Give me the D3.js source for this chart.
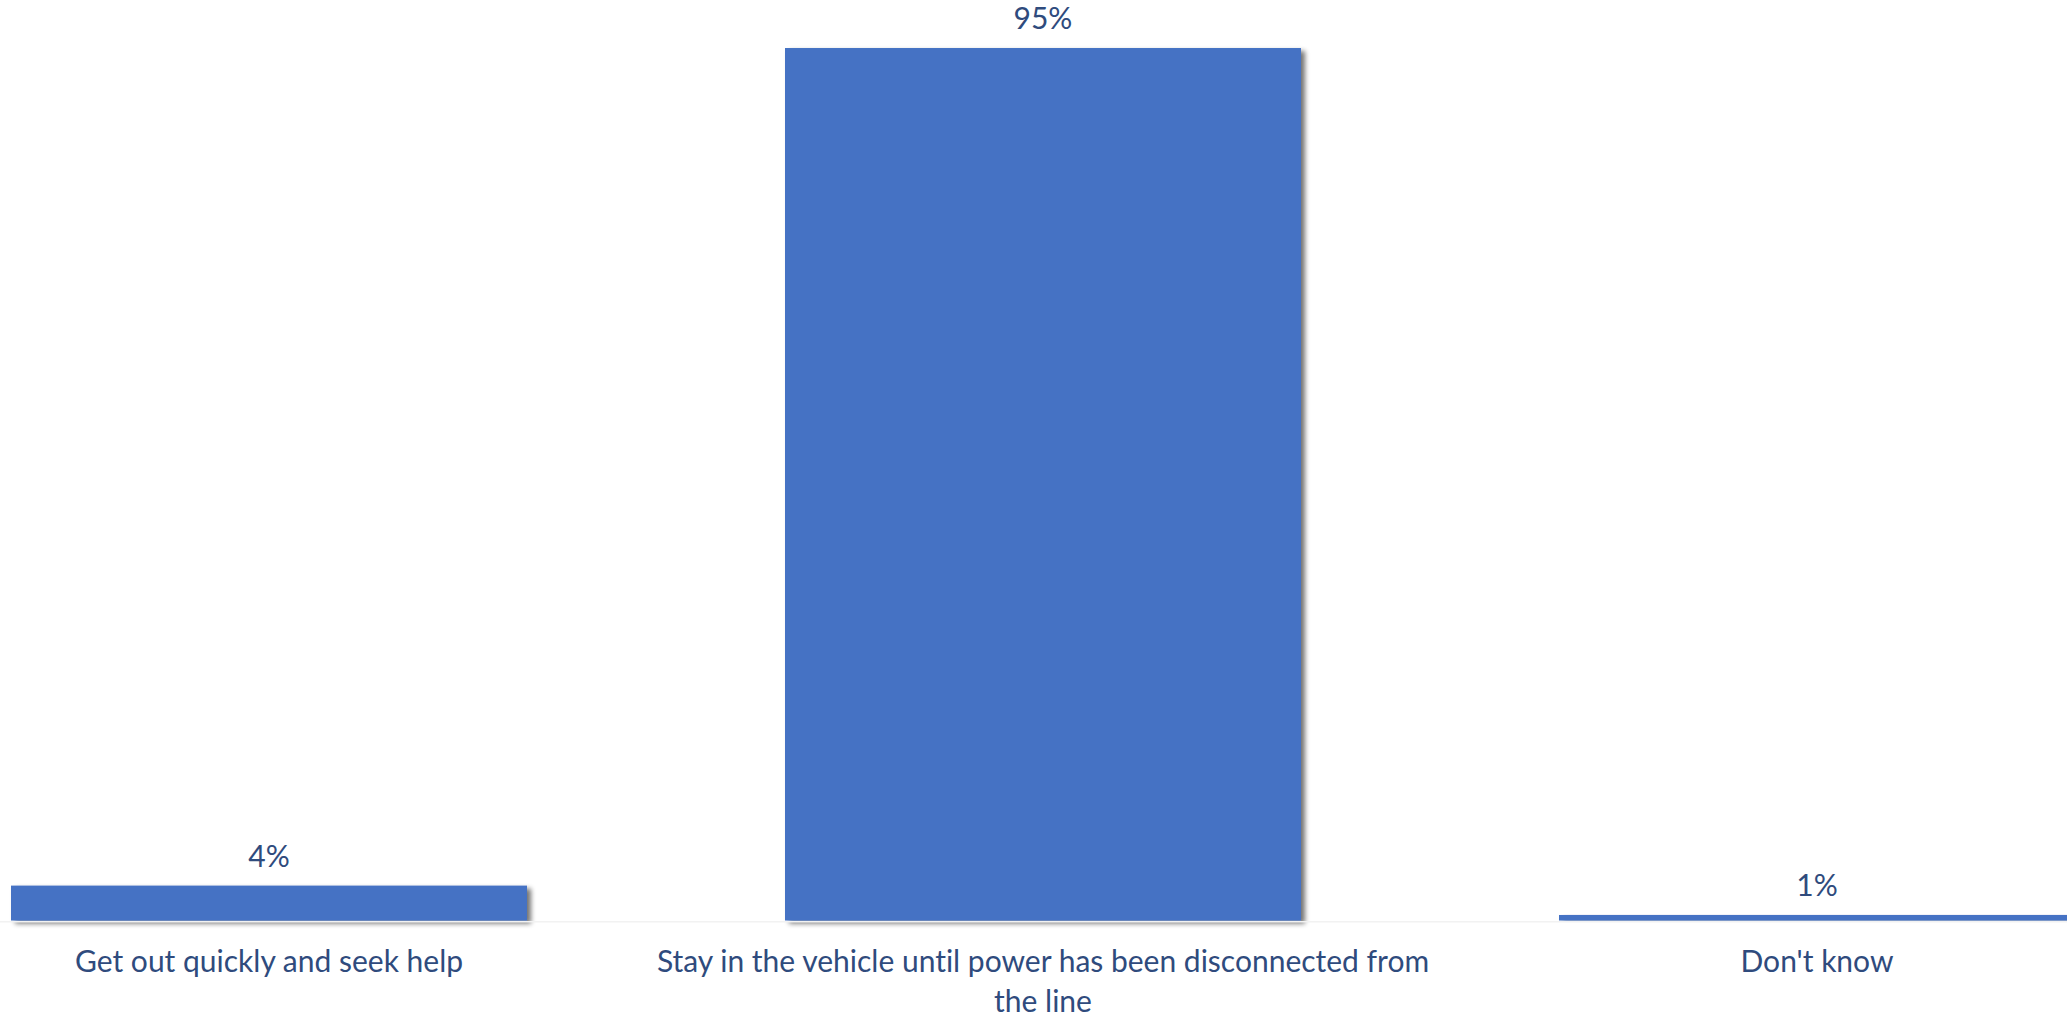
<!DOCTYPE html>
<html>
<head>
<meta charset="utf-8">
<script src="https://cdn.jsdelivr.net/npm/d3@7"></script>
<style>
  html, body { margin: 0; padding: 0; background: #ffffff; overflow: hidden; }
  svg { display: block; }
  text { font-variant-ligatures: none; font-feature-settings: "liga" 0, "clig" 0; }
</style>
</head>
<body>
<script>
// ---- data ----
const categories = [
  "Get out quickly and seek help",
  "Stay in the vehicle until power has been disconnected from the line",
  "Don't know"
];
const categoryLines = [
  ["Get out quickly and seek help"],
  ["Stay in the vehicle until power has been disconnected from", "the line"],
  ["Don't know"]
];
const values = [0.038, 0.95, 0.006];

// ---- layout ----
const W = 2067, H = 1017;
const barColor = "#4472C4";
const textColor = "#2F4B7D";
const fontFamily = "Lato, 'Open Sans', sans-serif";
const fontSize = 30;

const svg = d3.select("body").append("svg")
  .attr("width", W).attr("height", H);

const defs = svg.append("defs");
const f = defs.append("filter").attr("id", "shadow")
  .attr("x", "-5%").attr("y", "-5%").attr("width", "120%").attr("height", "130%");
f.append("feOffset").attr("in", "SourceAlpha").attr("dx", 4).attr("dy", 3).attr("result", "off");
f.append("feGaussianBlur").attr("in", "off").attr("stdDeviation", 2.5).attr("result", "blur");
f.append("feComponentTransfer").attr("in", "blur").attr("result", "sh")
  .append("feFuncA").attr("type", "linear").attr("slope", 0.55);
const m = f.append("feMerge");
m.append("feMergeNode").attr("in", "sh");
m.append("feMergeNode").attr("in", "SourceGraphic");

const x = d3.scaleBand()
  .domain(categories)
  .range([-118, 2204])
  .paddingInner(1/3)
  .paddingOuter(1/6);

const y = d3.scaleLinear()
  .domain([0, 1])
  .range([920.5, 2.1]);

const data = categories.map((c, i) => ({ cat: c, value: values[i], lines: categoryLines[i] }));

// bars
svg.append("g").selectAll("rect")
  .data(data)
  .join("rect")
  .attr("x", d => x(d.cat))
  .attr("y", d => y(d.value))
  .attr("width", x.bandwidth())
  .attr("height", d => y(0) - y(d.value))
  .attr("fill", barColor)
  .attr("filter", "url(#shadow)");

// axis line (light)
const axis = svg.append("g")
  .attr("transform", `translate(0,${y(0) + 0.75})`)
  .call(d3.axisBottom(x).tickSize(0).tickFormat(""));
axis.select(".domain").attr("stroke", "#F2F2F2").attr("stroke-width", 1.5);

// value labels
const fmt = d3.format(".0%");
svg.append("g").selectAll("text")
  .data(data)
  .join("text")
  .attr("x", d => x(d.cat) + x.bandwidth() / 2)
  .attr("y", d => y(d.value) - 19)
  .attr("text-anchor", "middle")
  .attr("font-family", fontFamily)
  .attr("font-size", fontSize)
  .attr("fill", textColor)
  .text(d => fmt(d.value));

// category labels
const cl = svg.append("g").selectAll("text")
  .data(data)
  .join("text")
  .attr("text-anchor", "middle")
  .attr("font-family", fontFamily)
  .attr("font-size", fontSize)
  .attr("fill", textColor);
cl.selectAll("tspan")
  .data(d => d.lines.map((l, j) => ({ l, j, cx: x(d.cat) + x.bandwidth() / 2 })))
  .join("tspan")
  .attr("x", t => t.cx)
  .attr("y", t => 972 + t.j * 39.5)
  .text(t => t.l);
</script>
</body>
</html>
